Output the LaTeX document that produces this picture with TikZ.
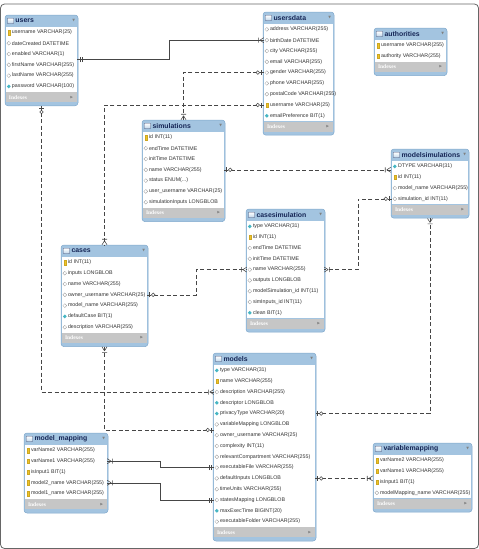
\documentclass[tikz,border=0pt]{standalone}
\usepackage{fontspec}
\setmainfont{Liberation Sans}
\newfontfamily\idxfont{Liberation Serif}
\newfontfamily\symfont{DejaVu Sans}
\usetikzlibrary{positioning,shapes.geometric,decorations.markings}

\definecolor{erblue}{RGB}{163,196,224}
\definecolor{erborder}{RGB}{128,168,204}
\definecolor{ertitle}{RGB}{22,38,86}
\definecolor{eridx}{RGB}{198,198,198}
\definecolor{erkey}{RGB}{240,196,40}
\definecolor{erteal}{RGB}{70,182,196}
\definecolor{erline}{RGB}{70,70,70}

\def\erdots{...}

\newcommand{\ertable}[6]{%
  \foreach \ic/\txt [count=\k] in {#6} {\xdef\ernum{\k}}
  \pgfmathsetmacro\erh{26+10.8*\ernum}
  \node[tablebox, minimum width=#4pt, minimum height=\erh pt] (#1) at ({#2+#4/2},{#3+\erh/2}) {};
  \node[minimum width=#4pt, minimum height=12pt, inner sep=0, anchor=north] (#1-head) at (#1.north) {};
  \node[tblicon, right=2.5pt of #1-head.west] {};
  \node[tbltitle, right=10.5pt of #1-head.west] {#5};
  \node[tbldrop, left=3pt of #1-head.east] {▼};
  \foreach \ic/\txt [count=\k] in {#6} {
    \node[tblrow, minimum width=#4pt-2pt] (#1-\k) at ({#2+#4/2},{#3+12+10.8*(\k-0.5)}) {};
    \node[\ic] at ([xshift=3pt]#1-\k.west) {};
    \node[rowtext, right=6pt of #1-\k.west] {\txt};
  }
  \node[tblidx, minimum width=#4pt-2pt, anchor=north] (#1-idx) at (#1-\ernum.south) {};
  \node[idxtext, right=3pt of #1-idx.west] {Indexes};
  \node[tbldrop, left=4pt of #1-idx.east] {▶};
}

\begin{document}
\begin{tikzpicture}[
  x=1pt, y=-1pt,
  tablebox/.style={draw=erborder, fill=erblue, rounded corners=3pt, inner sep=0, line width=0.5pt},
  tblrow/.style={fill=white, inner sep=0, minimum height=10.8pt},
  tblidx/.style={fill=eridx, inner sep=0, minimum height=10pt},
  tbltitle/.style={font=\bfseries\fontsize{6.9}{8}\selectfont, text=ertitle, inner sep=0},
  tblicon/.style={draw=ertitle!80, top color=white, bottom color=erblue!70, minimum width=6pt,
    minimum height=5.5pt, inner sep=0, rounded corners=0.5pt, line width=0.4pt},
  tbldrop/.style={font=\symfont\fontsize{3.5}{4}\selectfont, text=black!50, inner sep=0},
  rowtext/.style={font=\fontsize{5.3}{6}\selectfont, text=black!80, inner sep=0},
  idxtext/.style={font=\idxfont\bfseries\fontsize{5.5}{6}\selectfont, text=white, inner sep=0},
  ikey/.style={fill=erkey, draw=erkey!85!black, minimum width=1.8pt, minimum height=4.5pt,
    inner sep=0, line width=0.2pt},
  ifull/.style={diamond, fill=erteal, minimum size=4pt, inner sep=0},
  iopen/.style={diamond, draw=black!40, fill=white, minimum size=4pt, inner sep=0, line width=0.3pt},
  rel/.style={draw=erline, line width=0.55pt},
  optional/.style={dash pattern=on 4pt off 2.5pt},
  oneone start/.style={postaction={decorate, decoration={markings, mark=at position 0 with
    {\draw[solid] (3pt,-2.5pt) -- (3pt,2.5pt) (5pt,-2.5pt) -- (5pt,2.5pt);}}}},
  oneone end/.style={postaction={decorate, decoration={markings, mark=at position 1 with
    {\draw[solid] (-3pt,-2.5pt) -- (-3pt,2.5pt) (-5pt,-2.5pt) -- (-5pt,2.5pt);}}}},
  onemany start/.style={postaction={decorate, decoration={markings, mark=at position 0 with
    {\draw[solid] (4pt,0) -- (0,2.5pt) (4pt,0) -- (0,-2.5pt) (5.5pt,-2.5pt) -- (5.5pt,2.5pt);}}}},
  onemany end/.style={postaction={decorate, decoration={markings, mark=at position 1 with
    {\draw[solid] (-4pt,0) -- (0,2.5pt) (-4pt,0) -- (0,-2.5pt) (-5.5pt,-2.5pt) -- (-5.5pt,2.5pt);}}}},
  zeroone start/.style={postaction={decorate, decoration={markings, mark=at position 0 with
    {\draw[solid] (2.5pt,-2.5pt) -- (2.5pt,2.5pt); \draw[solid, fill=white] (6pt,0) circle (1.8pt);}}}},
  zeroone end/.style={postaction={decorate, decoration={markings, mark=at position 1 with
    {\draw[solid] (-2.5pt,-2.5pt) -- (-2.5pt,2.5pt); \draw[solid, fill=white] (-6pt,0) circle (1.8pt);}}}}
]
\useasboundingbox (0,0) rectangle (479,549);
\draw[black!60, rounded corners=4pt, line width=0.8pt] (0.5,4) rectangle (478.5,548.5);

\ertable{users}{5}{15}{73}{users}{ikey/username VARCHAR(25), iopen/dateCreated DATETIME,
  iopen/enabled VARCHAR(1), iopen/firstName VARCHAR(255), iopen/lastName VARCHAR(255),
  ifull/password VARCHAR(100)}
\ertable{usersdata}{263}{12}{71}{usersdata}{iopen/address VARCHAR(255), iopen/birthDate DATETIME,
  iopen/city VARCHAR(255), iopen/email VARCHAR(255), iopen/gender VARCHAR(255),
  iopen/phone VARCHAR(255), iopen/postalCode VARCHAR(255), ikey/username VARCHAR(25),
  ifull/emailPreference BIT(1)}
\ertable{authorities}{374}{28}{73}{authorities}{ikey/username VARCHAR(255), ikey/authority VARCHAR(255)}
\ertable{simulations}{142}{120}{83}{simulations}{ikey/id INT(11), iopen/endTime DATETIME,
  iopen/initTime DATETIME, iopen/name VARCHAR(255), iopen/status ENUM(\erdots),
  iopen/user\_username VARCHAR(25), iopen/simulationInputs LONGBLOB}
\ertable{modelsims}{391}{149}{78}{modelsimulations}{ifull/DTYPE VARCHAR(31), ikey/id INT(11),
  iopen/model\_name VARCHAR(255), iopen/simulation\_id INT(11)}
\ertable{cases}{61}{245}{87}{cases}{ikey/id INT(11), iopen/inputs LONGBLOB, iopen/name VARCHAR(255),
  iopen/owner\_username VARCHAR(25), iopen/model\_name VARCHAR(255), ifull/defaultCase BIT(1),
  iopen/description VARCHAR(255)}
\ertable{casesim}{246}{209}{79}{casesimulation}{ifull/type VARCHAR(31), ikey/id INT(11),
  iopen/endTime DATETIME, iopen/initTime DATETIME, iopen/name VARCHAR(255), iopen/outputs LONGBLOB,
  iopen/modelSimulation\_id INT(11), iopen/simInputs\_id INT(11), ifull/clean BIT(1)}
\ertable{models}{213}{353}{103}{models}{ifull/type VARCHAR(31), ikey/name VARCHAR(255),
  iopen/description VARCHAR(255), ifull/descriptor LONGBLOB, ifull/privacyType VARCHAR(20),
  iopen/variableMapping LONGBLOB, iopen/owner\_username VARCHAR(25), iopen/complexity INT(11),
  iopen/relevantCompartment VARCHAR(255), iopen/executableFile VARCHAR(255),
  iopen/defaultInputs LONGBLOB, iopen/timeUnits VARCHAR(255), iopen/statesMapping LONGBLOB,
  ifull/maxExecTime BIGINT(20), iopen/executableFolder VARCHAR(255)}
\ertable{modelmap}{24}{433}{84}{model\_mapping}{ikey/varName2 VARCHAR(255), ikey/varName1 VARCHAR(255),
  ikey/isInput1 BIT(1), ikey/model2\_name VARCHAR(255), ikey/model1\_name VARCHAR(255)}
\ertable{varmap}{373}{443}{99}{variablemapping}{ikey/varName2 VARCHAR(255), ikey/varName1 VARCHAR(255),
  ikey/isInput1 BIT(1), iopen/modelMapping\_name VARCHAR(255)}

\draw[rel, oneone start, onemany end] (users-3.south east) -- ++(92,0) |- (usersdata-2.west);
\draw[rel, optional, zeroone start, onemany end] (usersdata-5.west) -| (simulations.north);
\draw[rel, optional, zeroone start, onemany end] (usersdata-8.west) -| (cases.north);
\draw[rel, optional, zeroone start, onemany end] (users.south) |- (models-3.west);
\draw[rel, optional, onemany start, zeroone end] (cases.south) |- (models-6.south west);
\draw[rel, optional, zeroone start, onemany end] (simulations-4.east) -- (simulations-4.east -| modelsims.west);
\draw[rel, optional, zeroone start, onemany end] (modelsims-4.west) -- ++(-34,0) |- (casesim-5.east);
\draw[rel, optional, zeroone start, onemany end] (cases-4.east) -- ++(49,0) |- (casesim-5.west);
\draw[rel, optional, onemany start, zeroone end] (modelsims.south) |- (models-5.east);
\draw[rel, optional, zeroone start, onemany end] (models-11.east) -- (models-11.east -| varmap.west);
\draw[rel, onemany start, oneone end] (modelmap-2.east) -- ++(53,0) |- (models-10.west);
\draw[rel, onemany start, oneone end] (modelmap-4.east) -- ++(53,0) |- (models-13.west);
\end{tikzpicture}
\end{document}
